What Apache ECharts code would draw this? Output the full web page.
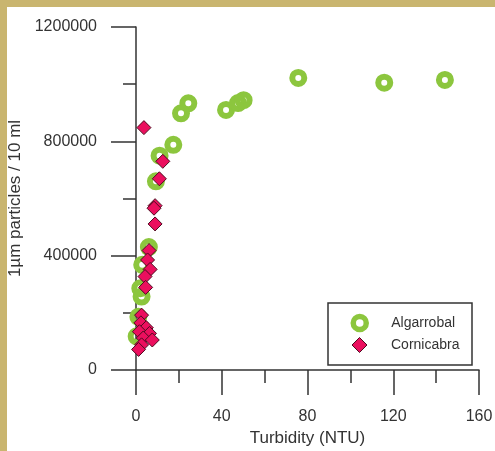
<!DOCTYPE html>
<html><head><meta charset="utf-8">
<script src="https://cdn.jsdelivr.net/npm/echarts@6/dist/echarts.min.js"></script>
<style>
html,body{margin:0;padding:0;background:#fff;}
#c{position:absolute;left:0;top:0;width:495px;height:451px;}
.bt{position:absolute;left:0;top:0;width:495px;height:7px;background:#c9b56f;}
.bl{position:absolute;left:0;top:0;width:7px;height:451px;background:#c9b56f;}
</style></head><body>
<div class="bt"></div><div class="bl"></div><div id="c"></div>
<script>
const seriesNames = ['Algarrobal', 'Cornicabra'];
const algTurbidity = [75.7, 115.8, 144.1, 42.0, 47.6, 50.2, 24.4, 21.0, 17.4, 11.0, 9.3, 6.0, 2.9, 2.0, 2.6, 1.1, 0.3];
const algParticles = [1022000, 1005000, 1015000, 910000, 934000, 944000, 933000, 898000, 788000, 750000, 660000, 430000, 368000, 286000, 257000, 186000, 118000];
const corTurbidity = [3.7, 12.5, 10.9, 8.9, 8.4, 8.9, 6.1, 5.4, 6.6, 4.2, 4.5, 2.6, 2.3, 4.8, 1.6, 6.3, 3.4, 7.6, 2.6, 1.2];
const corParticles = [848000, 730000, 669000, 575000, 566000, 511000, 418000, 385000, 352000, 327000, 289000, 192000, 165000, 148000, 134000, 128000, 112000, 105000, 88000, 72000];
const xTicks = [0, 40, 80, 120, 160];
const yTicks = [0, 400000, 800000, 1200000];

const green = '#8cc63e';
const pink = '#eb0f5e';
const font = 'Liberation Sans, Arial, sans-serif';

const algData = algTurbidity.map((x, i) => [x, algParticles[i]]);
const corData = corTurbidity.map((x, i) => [x, corParticles[i]]);

const chart = echarts.init(document.getElementById('c'), null, {renderer: 'canvas'});
const axisCommon = {
  axisLine: {show: true, onZero: false, lineStyle: {color: '#333', width: 1.5}},
  axisTick: {show: true, inside: false, length: 25, lineStyle: {color: '#333', width: 1.5}},
  minorTick: {show: true, splitNumber: 2, length: 13, lineStyle: {color: '#333', width: 1.5}},
  splitLine: {show: false},
  minorSplitLine: {show: false},
  nameLocation: 'middle',
  nameTextStyle: {color: '#333', fontSize: 17, fontFamily: font}
};
const legendCommon = {
  orient: 'vertical', padding: 0, itemGap: 0,
  textStyle: {color: '#333', fontSize: 14, fontFamily: font, lineHeight: 22, padding: [0, 0, 0, 20]}
};
chart.setOption({
  animation: false,
  backgroundColor: 'transparent',
  textStyle: {fontFamily: font},
  grid: {left: 136, right: 16, top: 27, bottom: 81, containLabel: false, outerBoundsMode: 'none'},
  xAxis: Object.assign({}, axisCommon, {
    type: 'value', min: xTicks[0], max: xTicks[xTicks.length - 1], interval: xTicks[1] - xTicks[0],
    name: 'Turbidity (NTU)', nameGap: 57,
    axisLabel: {color: '#333', fontSize: 16, fontFamily: font, margin: 39, formatter: v => String(v)}
  }),
  yAxis: Object.assign({}, axisCommon, {
    type: 'value', min: yTicks[0], max: yTicks[yTicks.length - 1], interval: yTicks[1] - yTicks[0],
    name: '1µm particles / 10 ml', nameGap: 107,
    axisLabel: {color: '#333', fontSize: 16, fontFamily: font, margin: 39, formatter: v => String(v)}
  }),
  graphic: [{
    type: 'rect', shape: {x: 328, y: 303, width: 144, height: 62},
    style: {fill: 'none', stroke: '#333', lineWidth: 1.5}, silent: true
  }],
  legend: [
    Object.assign({}, legendCommon, {
      left: 350.5, top: 312, itemWidth: 13, itemHeight: 13,
      data: [{name: seriesNames[0], icon: 'circle', itemStyle: {color: 'rgba(0,0,0,0)', borderColor: green, borderWidth: 5.5, opacity: 1}}]
    }),
    Object.assign({}, legendCommon, {
      left: 351.5, top: 334, itemWidth: 15, itemHeight: 15,
      textStyle: Object.assign({}, legendCommon.textStyle, {padding: [0, 0, 0, 19]}),
      data: [{name: seriesNames[1], icon: 'diamond', itemStyle: {color: pink, borderColor: '#4d0b1f', borderWidth: 1, opacity: 1}}]
    })
  ],
  series: [
    {
      name: seriesNames[0], type: 'scatter', data: algData,
      symbol: 'circle', symbolSize: 12,
      itemStyle: {color: 'rgba(0,0,0,0)', borderColor: green, borderWidth: 6, opacity: 1},
      emphasis: {disabled: true}
    },
    {
      name: seriesNames[1], type: 'scatter', data: corData,
      symbol: 'diamond', symbolSize: 14,
      itemStyle: {color: pink, borderColor: '#4d0b1f', borderWidth: 1, opacity: 1},
      emphasis: {disabled: true}
    }
  ]
});
</script>
</body></html>
